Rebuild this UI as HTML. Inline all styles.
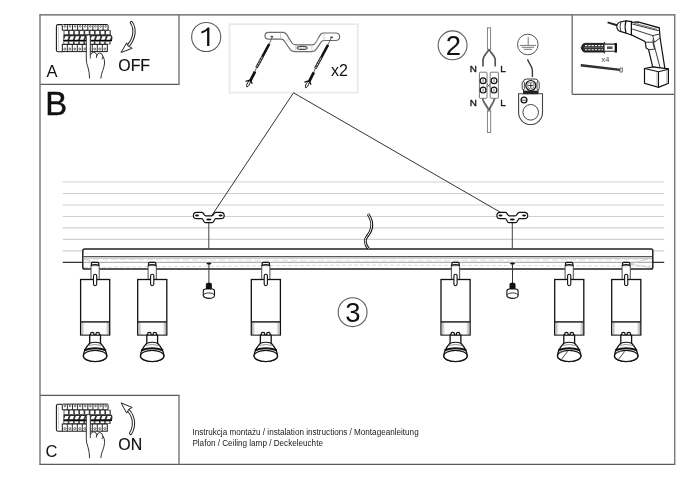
<!DOCTYPE html>
<html><head><meta charset="utf-8">
<style>
html,body{margin:0;padding:0;background:#fff;width:688px;height:486px;overflow:hidden}
svg{display:block;filter:grayscale(1)}
text{font-family:"Liberation Sans",sans-serif;fill:#111}
</style></head><body>
<svg width="688" height="486" viewBox="0 0 688 486">
<defs>
<linearGradient id="band" x1="0" x2="1" y1="0" y2="0">
<stop offset="0" stop-color="#aaa"/><stop offset="0.07" stop-color="#d8d8d8"/><stop offset="0.12" stop-color="#fcfcfc"/><stop offset="0.88" stop-color="#fcfcfc"/><stop offset="0.93" stop-color="#d8d8d8"/><stop offset="1" stop-color="#aaa"/>
</linearGradient>
<g id="spot">
<rect x="-4.1" y="265.6" width="8.2" height="13.9" fill="#fff" stroke="#555" stroke-width="1.05"/>
<path d="M-3.7 265.6 V263.6 Q-3.7 262.3 -2.4 262.3 H2.4 Q3.7 262.3 3.7 263.6 V265.6" fill="#f6f6f6" stroke="#111" stroke-width="1.2"/>
<path d="M-3.9 265.4 Q0 263.9 3.9 265.4" fill="none" stroke="#111" stroke-width="1.3"/>
<rect x="-14.5" y="279.5" width="29.1" height="55.5" fill="#fff" stroke="#111" stroke-width="1.3"/>
<rect x="-13.9" y="321.8" width="27.8" height="12.6" fill="url(#band)"/>
<path d="M-14.6 321.9 H14.6" stroke="#222" stroke-width="1.5"/>
<rect x="-1.6" y="274.2" width="3.2" height="11.5" rx="1.6" fill="#fff" stroke="#111" stroke-width="1.1"/>
<path d="M-4.6 335.2 v-1 a1.8 1.8 0 0 1 3.6 0 v1 M0.8 335.2 v-1 a1.8 1.8 0 0 1 3.6 0 v1" fill="#fff" stroke="#111" stroke-width="1.2"/>
<path d="M-5.4 335.2 V343.2 C-7.5 345.5 -11.2 349.5 -11.8 355.8 A11.8 5.7 0 0 0 11.8 355.8 C11.2 349.5 7.5 345.5 5.4 343.2 V335.2 Z" fill="#fff" stroke="#111" stroke-width="1.3"/>
<path d="M-5.4 343.2 Q0 341.4 5.4 343.2" fill="none" stroke="#111" stroke-width="1.1"/>
<path d="M-7.6 345.6 Q0 343.4 7.6 345.6" fill="none" stroke="#666" stroke-width="0.7"/>
<path d="M-10.9 350.2 Q0 346.3 10.9 350.2" fill="none" stroke="#111" stroke-width="2"/>
<ellipse cx="0" cy="355.9" rx="11.7" ry="5.6" fill="#fff" stroke="#111" stroke-width="1.2"/>
</g>
<g id="pend">
<ellipse cx="0" cy="263.6" rx="2.5" ry="1.1" fill="#111"/>
<path d="M0 264 V283" stroke="#333" stroke-width="1"/>
<path d="M-3 289.6 V284.6 Q-3 282.8 -1.2 282.8 H1.2 Q3 282.8 3 284.6 V289.6 Z" fill="#111"/>
<path d="M-5.6 291.2 Q-5.6 289 -3.3 289 H3.3 Q5.6 289 5.6 291.2 V295.4 A5.6 3 0 0 1 -5.6 295.4 Z" fill="#fff" stroke="#111" stroke-width="1.1"/>
<path d="M-5.6 295.4 A5.6 2.5 0 0 1 5.6 295.4" fill="none" stroke="#222" stroke-width="0.9"/>
</g>
<g id="brk">
<path d="M0 222 V249" stroke="#444" stroke-width="1"/>
<path d="M-12.2 212.3 L-6.8 212.3 C-5.2 212.3 -4.6 215.9 -3 215.9 L3 215.9 C4.6 215.9 5.2 212.3 6.8 212.3 L12.2 212.3 A3.2 3.2 0 0 1 12.2 218.7 L7 218.7 C5.6 218.7 5.2 222.7 3.3 222.7 L-3.3 222.7 C-5.2 222.7 -5.6 218.7 -7 218.7 L-12.2 218.7 A3.2 3.2 0 0 1 -12.2 212.3 Z" fill="#fff" stroke="#111" stroke-width="1.2"/>
<ellipse cx="-11.8" cy="215.5" rx="2" ry="0.9" fill="#111"/>
<ellipse cx="11.8" cy="215.5" rx="2" ry="0.9" fill="#111"/>
<ellipse cx="0" cy="219.6" rx="2.6" ry="1" fill="#111"/>
</g>
</defs>
<!-- main frame -->
<g fill="none" stroke="#5a5a5a" stroke-width="1.15">
<path d="M39.4 14.8 H675.3 M39.4 464.3 H675.3 M40 84.4 H179.6 M40 395.4 H179.6 M572.2 94.4 H675"/>
</g>
<g fill="none" stroke="#7a7a7a" stroke-width="1.45">
<path d="M40 14.4 V464.7 M674.7 14.4 V464.7 M179 14.8 V84.4 M179 395.4 V464.3 M572.2 14.8 V94.4"/>
</g>
<!-- box 1 light -->
<rect x="229.5" y="24.2" width="128.3" height="68.4" fill="none" stroke="#e9e9e9" stroke-width="1.7"/>
<!-- ceiling lines -->
<g stroke="#d0d0d0" stroke-width="1.2">
<path d="M62.8 182 H664.2 M62.8 193.5 H664.2 M62.8 205 H664.2 M62.8 216.5 H664.2 M62.8 227.9 H664.2 M62.8 239.3 H664.2 M62.8 250.8 H664.2"/>
</g>
<path d="M62.8 262.4 H664.2" stroke="#333" stroke-width="1.2"/>
<!-- pointer lines -->
<path d="M211.4 216.1 L293.5 92.8 L502.3 213.4" fill="none" stroke="#333" stroke-width="1"/>
<!-- bar -->
<rect x="82.8" y="249" width="570" height="20.1" rx="1.8" fill="#fff" stroke="#222" stroke-width="1.5"/>
<path d="M83.2 256.6 H652" stroke="#555" stroke-width="1.2"/>
<path d="M83.2 258.3 H652" stroke="#b0b0b0" stroke-width="0.8"/>
<path d="M83.2 262.3 H652" stroke="#8a8a8a" stroke-width="0.85"/>
<path d="M84 267.4 L360 265 L652 266.2" stroke="#cfcfcf" stroke-width="0.7" stroke-dasharray="4 2" fill="none"/>
<path d="M84 259.2 L360 261 L652 259.5" stroke="#d5d5d5" stroke-width="0.7" stroke-dasharray="6 3" fill="none"/>
<path d="M84 259 L100 264 M651 258 L630 264 M651 267.5 L630 264" stroke="#bbb" stroke-width="0.7"/>
<!-- wire -->
<path d="M368 214 C373.5 222 372.5 230 367 236.5 C364 240.5 365 244.5 368.5 248.5" fill="none" stroke="#111" stroke-width="2.8"/>
<path d="M368 214 C373.5 222 372.5 230 367 236.5 C364 240.5 365 244.5 368.5 248.5" fill="none" stroke="#fff" stroke-width="1"/>
<use href="#brk" x="208.8"/>
<use href="#brk" x="512.3"/>
<use href="#pend" x="208.9"/>
<use href="#pend" x="512.5"/>
<use href="#spot" x="95.1"/>
<use href="#spot" x="152.2"/>
<use href="#spot" x="265.8"/>
<use href="#spot" x="455.5"/>
<use href="#spot" x="569.2"/>
<use href="#spot" x="626.2"/>
<path d="M561.5 359.2 L567.7 351.4 M618.5 359.2 L624.7 351.4" stroke="#333" stroke-width="0.9"/><path d="M559.5 353.2 L565 350.6 M616.5 353.2 L622 350.6" stroke="#777" stroke-width="0.7"/>
<g id="panelA">
<path d="M62.4 24.6 H58.2 Q56.4 24.6 56.4 26.5 V49.9 Q56.4 51.7 58.2 51.7 H62.4" fill="#fff" stroke="#1a1a1a" stroke-width="1.1"/>
<path d="M58.4 26.8 V49.8" stroke="#c8c8c8" stroke-width="0.9"/>
<path d="M62.3 30.2 V25.6 Q62.3 24.5 63.4 24.5 H107 Q108.1 24.5 108.1 25.6 V30.2 Z" fill="#fff" stroke="#1a1a1a" stroke-width="1"/>
<circle cx="64.85" cy="26.4" r="0.85" fill="#fff" stroke="#333" stroke-width="0.7"/>
<path d="M67.40 24.6 V30.2" stroke="#1a1a1a" stroke-width="0.9"/>
<circle cx="69.95" cy="26.4" r="0.85" fill="#fff" stroke="#333" stroke-width="0.7"/>
<path d="M72.50 24.6 V30.2" stroke="#1a1a1a" stroke-width="0.9"/>
<circle cx="75.05" cy="26.4" r="0.85" fill="#fff" stroke="#333" stroke-width="0.7"/>
<path d="M77.60 24.6 V30.2" stroke="#1a1a1a" stroke-width="0.9"/>
<circle cx="80.15" cy="26.4" r="0.85" fill="#fff" stroke="#333" stroke-width="0.7"/>
<path d="M82.70 24.6 V30.2" stroke="#1a1a1a" stroke-width="0.9"/>
<circle cx="85.25" cy="26.4" r="0.85" fill="#fff" stroke="#333" stroke-width="0.7"/>
<path d="M87.80 24.6 V30.2" stroke="#1a1a1a" stroke-width="0.9"/>
<circle cx="90.35" cy="26.4" r="0.85" fill="#fff" stroke="#333" stroke-width="0.7"/>
<path d="M92.90 24.6 V30.2" stroke="#1a1a1a" stroke-width="0.9"/>
<circle cx="95.45" cy="26.4" r="0.85" fill="#fff" stroke="#333" stroke-width="0.7"/>
<path d="M98.00 24.6 V30.2" stroke="#1a1a1a" stroke-width="0.9"/>
<circle cx="100.55" cy="26.4" r="0.85" fill="#fff" stroke="#333" stroke-width="0.7"/>
<path d="M103.10 24.6 V30.2" stroke="#1a1a1a" stroke-width="0.9"/>
<circle cx="105.65" cy="26.4" r="0.85" fill="#fff" stroke="#333" stroke-width="0.7"/>
<rect x="63.6" y="30.2" width="47.2" height="4.8" fill="#3a3a3a"/>
<rect x="64.40" y="30.9" width="3.60" height="3.4" rx="0.5" fill="#fff"/>
<rect x="69.60" y="30.9" width="3.60" height="3.4" rx="0.5" fill="#fff"/>
<rect x="74.80" y="30.9" width="3.60" height="3.4" rx="0.5" fill="#fff"/>
<rect x="80.00" y="30.9" width="3.60" height="3.4" rx="0.5" fill="#fff"/>
<rect x="85.20" y="30.9" width="3.60" height="3.4" rx="0.5" fill="#fff"/>
<rect x="90.40" y="30.9" width="3.60" height="3.4" rx="0.5" fill="#fff"/>
<rect x="95.60" y="30.9" width="3.60" height="3.4" rx="0.5" fill="#fff"/>
<rect x="100.80" y="30.9" width="3.60" height="3.4" rx="0.5" fill="#fff"/>
<rect x="106.00" y="30.9" width="3.60" height="3.4" rx="0.5" fill="#fff"/>
<path d="M63.4 35 H111.2 Q112.4 35 112.4 37.5 Q112.4 40.9 111.2 40.9 H63.4 Z" fill="#2a2a2a"/>
<path d="M64.00 39.7 L65.30 36.3 H68.80 L67.50 39.7 Z" fill="#fff"/>
<path d="M69.30 39.7 L70.60 36.3 H74.10 L72.80 39.7 Z" fill="#fff"/>
<path d="M74.60 39.7 L75.90 36.3 H79.40 L78.10 39.7 Z" fill="#fff"/>
<path d="M79.90 39.7 L81.20 36.3 H84.70 L83.40 39.7 Z" fill="#fff"/>
<path d="M85.20 39.7 L86.50 36.3 H90.00 L88.70 39.7 Z" fill="#fff"/>
<path d="M90.50 39.7 L91.80 36.3 H95.30 L94.00 39.7 Z" fill="#fff"/>
<path d="M95.80 39.7 L97.10 36.3 H100.60 L99.30 39.7 Z" fill="#fff"/>
<path d="M101.10 39.7 L102.40 36.3 H105.90 L104.60 39.7 Z" fill="#fff"/>
<path d="M106.40 39.7 L107.70 36.3 H111.20 L109.90 39.7 Z" fill="#fff"/>
<path d="M63.4 40.7 H112" stroke="#000" stroke-width="1.2"/>
<rect x="63.4" y="41.2" width="47.2" height="3.2" fill="#3a3a3a"/>
<rect x="64.20" y="41.8" width="3.60" height="2" fill="#fff"/>
<rect x="69.40" y="41.8" width="3.60" height="2" fill="#fff"/>
<rect x="74.60" y="41.8" width="3.60" height="2" fill="#fff"/>
<rect x="79.80" y="41.8" width="3.60" height="2" fill="#fff"/>
<rect x="85.00" y="41.8" width="3.60" height="2" fill="#fff"/>
<rect x="90.20" y="41.8" width="3.60" height="2" fill="#fff"/>
<rect x="95.40" y="41.8" width="3.60" height="2" fill="#fff"/>
<rect x="100.60" y="41.8" width="3.60" height="2" fill="#fff"/>
<rect x="105.80" y="41.8" width="3.60" height="2" fill="#fff"/>
<rect x="62.3" y="44.4" width="45" height="7.2" fill="#fff" stroke="#1a1a1a" stroke-width="1"/>
<circle cx="64.80" cy="49" r="1" fill="#fff" stroke="#333" stroke-width="0.7"/>
<path d="M67.30 44.4 V51.6" stroke="#1a1a1a" stroke-width="0.9"/>
<circle cx="69.80" cy="49" r="1" fill="#fff" stroke="#333" stroke-width="0.7"/>
<path d="M72.30 44.4 V51.6" stroke="#1a1a1a" stroke-width="0.9"/>
<circle cx="74.80" cy="49" r="1" fill="#fff" stroke="#333" stroke-width="0.7"/>
<path d="M77.30 44.4 V51.6" stroke="#1a1a1a" stroke-width="0.9"/>
<circle cx="79.80" cy="49" r="1" fill="#fff" stroke="#333" stroke-width="0.7"/>
<path d="M82.30 44.4 V51.6" stroke="#1a1a1a" stroke-width="0.9"/>
<circle cx="84.80" cy="49" r="1" fill="#fff" stroke="#333" stroke-width="0.7"/>
<path d="M87.30 44.4 V51.6" stroke="#1a1a1a" stroke-width="0.9"/>
<circle cx="89.80" cy="49" r="1" fill="#fff" stroke="#333" stroke-width="0.7"/>
<path d="M92.30 44.4 V51.6" stroke="#1a1a1a" stroke-width="0.9"/>
<circle cx="94.80" cy="49" r="1" fill="#fff" stroke="#333" stroke-width="0.7"/>
<path d="M97.30 44.4 V51.6" stroke="#1a1a1a" stroke-width="0.9"/>
<circle cx="99.80" cy="49" r="1" fill="#fff" stroke="#333" stroke-width="0.7"/>
<path d="M102.30 44.4 V51.6" stroke="#1a1a1a" stroke-width="0.9"/>
<circle cx="104.80" cy="49" r="1" fill="#fff" stroke="#333" stroke-width="0.7"/>
<path d="M86.3 59 V36.5 Q86.5 34.8 88.4 34.8 Q90.3 34.8 90.3 36.5 V55.2 Q91.5 52.3 93.5 52.2 Q96 52.3 96.6 54.5 L96.3 57 Q97.5 52.8 99.8 52.9 Q102.3 53.2 102.8 56.3 Q104.8 59 104.6 63 Q104.2 67 102.8 70.5 Q101.2 74 100.8 78.5 L89.6 78.5 Q89.4 72 88 67.5 Q86.3 63.5 86.3 59 Z" fill="#fff"/>
<path d="M89.6 78.5 Q89.4 72 88 67.5 Q86.3 63.5 86.3 59 V36.5 Q86.5 34.8 88.4 34.8 Q90.3 34.8 90.3 36.5 V55.2 Q91.5 52.3 93.5 52.2 Q96 52.3 96.6 54.5 M96.3 57 Q97.5 52.8 99.8 52.9 Q102.3 53.2 102.8 56.3 Q104.8 59 104.6 63 Q104.2 67 102.8 70.5 Q101.2 74 100.8 78.5" fill="none" stroke="#333" stroke-width="1"/>
<path d="M90.3 55.2 V58.5 M96.6 54.5 Q96.6 56.5 96.3 58 M102.8 56.3 Q102.5 58 102 59.5" fill="none" stroke="#333" stroke-width="0.9"/>
</g>
<use href="#panelA" y="379.6"/>

<!-- arrow OFF -->
<path d="M131.4 22.6 C135.5 28.5 135 37.5 128.6 45.3" fill="none" stroke="#222" stroke-width="3.3" stroke-linecap="round"/>
<path d="M131.4 22.6 C135.5 28.5 135 37.5 128.6 45.3" fill="none" stroke="#fff" stroke-width="1.3" stroke-linecap="round"/>
<path d="M121.1 52.5 L126.7 42.8 L127.6 45.5 L132.2 48.3 Z" fill="#fff" stroke="#222" stroke-width="1" stroke-linejoin="miter"/>
<!-- arrow ON -->
<path d="M130.6 433.4 C134.9 426.5 134.5 417 128.5 410.5" fill="none" stroke="#222" stroke-width="3.3" stroke-linecap="round"/>
<path d="M130.6 433.4 C134.9 426.5 134.5 417 128.5 410.5" fill="none" stroke="#fff" stroke-width="1.3" stroke-linecap="round"/>
<path d="M121.1 402.9 L132.2 407.5 L129 409 L126.7 413.1 Z" fill="#fff" stroke="#222" stroke-width="1"/>
<!-- box1 bracket -->
<path d="M268.7 32.4 H282.9 C285.5 32.4 287 34.5 288.4 37.4 L292 43 C293 44.3 294 44.8 295.8 44.8 H311.9 C313.8 44.8 315 44 316.2 42 L319.5 36 C320.6 34 321.8 33 323.5 33 H335.5 C338 33 339.6 34.6 339.6 36.7 C339.6 38.8 338 40.5 335.5 40.5 H324 C322.5 40.5 321.5 41.3 320.7 42.6 L316.5 48.8 C315.3 50.6 314 51.6 311.5 51.6 H295 C292.5 51.6 291 50.8 289.8 49 L285 42 C284 40 282.8 39.2 281 39.2 H268.7 C266.5 39.2 265 37.7 265 35.8 C265 33.9 266.5 32.4 268.7 32.4 Z" fill="#fff" stroke="#6a6a6a" stroke-width="1.2"/>
<path d="M280.5 32.6 V39 M324 33.2 V40.3 M289 38.3 L285.6 42.5 M295.8 44.8 V51.5 M311.9 44.8 V51.5 M318.6 37.8 L316 42.3" fill="none" stroke="#bbb" stroke-width="0.7"/>
<ellipse cx="302.2" cy="47.9" rx="5" ry="1.5" fill="#f4f4f4" stroke="#444" stroke-width="1.1"/>
<ellipse cx="271.8" cy="36.6" rx="1.5" ry="0.8" fill="#444"/>
<ellipse cx="331.6" cy="37.4" rx="1.5" ry="0.8" fill="#444"/>
<g id="hang">
<path d="M272.4 37 L269 44.3" stroke="#333" stroke-width="0.7"/>
<path d="M269.2 44 L262.2 57.2" stroke="#111" stroke-width="2.6"/>
<path d="M262.4 56.8 L256.5 67.6" stroke="#1a1a1a" stroke-width="2.7"/>
<path d="M262.4 56.8 L256.5 67.6" stroke="#fff" stroke-width="1" stroke-dasharray="1.1 0.7"/>
<path d="M256.7 67.1 L254.8 72" stroke="#333" stroke-width="0.8"/>
<path d="M255 71.6 L249.8 81.9" stroke="#111" stroke-width="2.8"/>
<path d="M245.6 81.3 L250.3 80 L252.3 83.8" fill="none" stroke="#111" stroke-width="1.2"/>
<path d="M248.9 81 C247 83 246.2 85.5 246.9 87 C248.2 86.8 249.5 84.8 250.4 82" fill="#fff" stroke="#111" stroke-width="1"/>
</g>
<use href="#hang" x="58.8" y="0.8"/>
<!-- connector -->
<rect x="487.4" y="27.8" width="3.2" height="21.5" fill="#fff" stroke="#777" stroke-width="0.9"/>
<path d="M488.9 49.5 C487.5 53 483 55.5 483 60 V66.5 M489.1 49.5 C490.5 53 495.2 55.5 495.2 60 V66.5" fill="none" stroke="#555" stroke-width="1.7"/>
<rect x="479.4" y="72.2" width="7.6" height="26.1" rx="0.8" fill="#fff" stroke="#777" stroke-width="1"/>
<rect x="490.2" y="72.2" width="8.2" height="26.1" rx="0.8" fill="#fff" stroke="#777" stroke-width="1"/>
<g fill="#fff" stroke="#111" stroke-width="1.2">
<circle cx="483.1" cy="80.8" r="2.9"/><circle cx="494" cy="80.8" r="2.9"/>
<circle cx="483.1" cy="90.1" r="2.9"/><circle cx="494" cy="90.1" r="2.9"/>
</g>
<path d="M483.1 79.3 V82.3 M494 79.3 V82.3 M483.1 88.6 V91.6 M494 88.6 V91.6 M487 84 L490.2 87 M490.2 84 L487 87" stroke="#333" stroke-width="0.7"/>
<path d="M482.6 98.5 C483.2 103.5 488 106 488.9 111.2 M494.6 98.5 C494 103.5 489.4 106 489.1 111.2" fill="none" stroke="#666" stroke-width="1.9"/>
<rect x="487.4" y="111" width="3.3" height="21.5" fill="#fff" stroke="#777" stroke-width="0.9"/>
<text x="469.8" y="72.2" font-size="9.9" stroke="#111" stroke-width="0.35">N</text>
<text x="500.3" y="72.2" font-size="9.9" stroke="#111" stroke-width="0.35">L</text>
<text x="469.8" y="105.7" font-size="9.9" stroke="#111" stroke-width="0.35">N</text>
<text x="500.3" y="105.7" font-size="9.9" stroke="#111" stroke-width="0.35">L</text>
<!-- ground -->
<circle cx="527.8" cy="44.5" r="10.3" fill="none" stroke="#555" stroke-width="1"/>
<path d="M528.2 37.2 V45.3 M519.7 45.4 H536.1 M521.7 47.3 H534.1 M523.8 49.3 H532" stroke="#777" stroke-width="1"/>
<path d="M527.4 59.3 L531.6 67.2 Q532.4 69 532.4 71 V77" fill="none" stroke="#3a3a3a" stroke-width="1.4"/>
<path d="M518.6 93.8 H542.5 V112.6 A11.95 11.95 0 0 1 518.6 112.6 Z" fill="#fff" stroke="#444" stroke-width="1.1"/>
<circle cx="530.7" cy="112.3" r="7.8" fill="#fff" stroke="#444" stroke-width="1"/>
<circle cx="524" cy="100" r="2.9" fill="#fff" stroke="#111" stroke-width="1.3"/>
<path d="M522.2 100.2 H525.8" stroke="#222" stroke-width="0.8"/>
<path d="M523.5 93.7 V81.5 Q523.5 79 526.5 79 H535 Q538 79 538 81.5 V93.7 Z" fill="#fff" stroke="#333" stroke-width="1"/>
<rect x="523.3" y="90.6" width="14.9" height="3.3" fill="#222"/>
<rect x="522.2" y="81.6" width="2.2" height="8" rx="1" fill="#fff" stroke="#333" stroke-width="0.9"/><rect x="537" y="81.6" width="2.2" height="8" rx="1" fill="#fff" stroke="#333" stroke-width="0.9"/>
<circle cx="530.8" cy="85.5" r="5" fill="#fff" stroke="#111" stroke-width="1.2"/>
<circle cx="530.8" cy="85.5" r="3.4" fill="none" stroke="#555" stroke-width="0.7"/>
<path d="M530.8 82.9 V88.1 M528.2 85.5 H533.4" stroke="#222" stroke-width="0.9"/>


<!-- wall plug -->
<path d="M584.5 43.4 H603.4 L604.6 42.3 V53.1 L603.4 52 H584.5 Q582.5 52 581.2 47.7 Q582.5 43.4 584.5 43.4 Z" fill="#2a2a2a" stroke="#111" stroke-width="0.9"/>
<path d="M585 45.6 H603 M585 49.8 H603" stroke="#fff" stroke-width="1.1" stroke-dasharray="2.2 1.1"/>
<path d="M584 47.7 H603.5" stroke="#999" stroke-width="0.6"/>
<path d="M604.6 44.1 H616.3 V51.3 H604.6" fill="#fff" stroke="#222" stroke-width="1.1"/>
<path d="M615.8 43 V52.6" stroke="#111" stroke-width="2.2"/>
<path d="M607 47.7 H612.5" stroke="#555" stroke-width="2.6"/>
<text x="601.5" y="61.8" font-size="7.4" style="fill:#444">x4</text>
<!-- screw -->
<path d="M580.8 65.2 L620.3 69.9" stroke="#222" stroke-width="2.4"/>
<path d="M582 65.3 L619.5 69.8" stroke="#888" stroke-width="0.5" stroke-dasharray="0.8 0.8"/>
<path d="M620.2 67.8 L622.6 68.1 L622.2 72.2 L619.8 71.9 Z" fill="#eee" stroke="#666" stroke-width="0.9"/>
<!-- drill -->
<path d="M607.6 22.4 L617 25.2" stroke="#222" stroke-width="2"/>
<path d="M616.8 26.8 Q617 22.6 621 21.8 L626 20.9 V33 L621 31.6 Q616.9 30.8 616.8 26.8 Z" fill="#fff" stroke="#111" stroke-width="1.1"/>
<path d="M620.9 21.9 Q619 26.8 621 31.6" fill="none" stroke="#222" stroke-width="0.9"/>
<path d="M626 20.9 L631.5 21.6 V35 L626 33 Q624.2 27 626 20.9 Z" fill="#fff" stroke="#111" stroke-width="1.1"/>
<path d="M631.4 22.3 L637.9 21.8 L659.3 27.8 L660.1 38 L665 69.3 L652.7 66.8 L648.6 49.6 L646.1 47.9 L645.3 42.2 L644.5 41.3 L631.4 34.8 Z" fill="#fff" stroke="#111" stroke-width="1.2"/>
<path d="M632.2 24 L657.7 30.6 L660 30 M632.2 29 L652.7 35.6 L659.8 34 M637.9 21.8 L638 23.5 M652.7 35.6 L654.4 42.2 L660.1 38 M645.3 42.2 L654.4 42.2 M652.7 39.7 L660.1 67.7 M648.6 49.6 L654.6 49.2 L653 43" fill="none" stroke="#222" stroke-width="0.9"/>
<path d="M634 23.2 L657.5 29.4" stroke="#555" stroke-width="0.8"/>
<path d="M644.5 68.5 L652.7 66.8 L668.4 68.8 V83.3 L658.5 87.4 L644.5 83.3 Z" fill="#fff" stroke="#111" stroke-width="1.2"/>
<path d="M644.5 68.5 L658.5 71.8 L668.4 69.3 M658.5 71.8 V87.4" fill="none" stroke="#111" stroke-width="1.1"/>
<path d="M657 72 V86.5 M666.8 70 V84" stroke="#999" stroke-width="0.7"/>
<!-- circles -->
<g fill="none" stroke="#5c5c5c" stroke-width="1.1">
<circle cx="206.2" cy="37" r="14.55"/>
<circle cx="352.6" cy="312.2" r="14.45"/>
<circle cx="452.6" cy="45.3" r="14.45"/>
</g>
<path d="M209.4 27.4 V45.9 H207.1 V30.6 Q205 32.6 201.3 33.5 V31.6 Q205.6 30.2 207.8 27.4 Z" fill="#111"/>
<text x="345.2" y="321.6" font-size="27.5">3</text>
<text x="445.8" y="55" font-size="27.5">2</text>
<text x="45.2" y="114.7" font-size="32.8" stroke="#111" stroke-width="0.45">B</text>
<text x="46.4" y="76.8" font-size="16.5">A</text>
<text x="118.3" y="70.9" font-size="15.9" stroke="#111" stroke-width="0.2">OFF</text>
<text x="45.6" y="457.4" font-size="16.5">C</text>
<text x="118.3" y="449.7" font-size="15.9" stroke="#111" stroke-width="0.2">ON</text>
<text x="331" y="76" font-size="16">x2</text>
<text x="192.4" y="435.2" font-size="8.15" style="fill:#1a1a1a">Instrukcja montażu / instalation instructions / Montageanleitung</text>
<text x="192.4" y="446" font-size="8.15" style="fill:#1a1a1a">Plafon / Ceiling lamp / Deckeleuchte</text>
</svg>
</body></html>
